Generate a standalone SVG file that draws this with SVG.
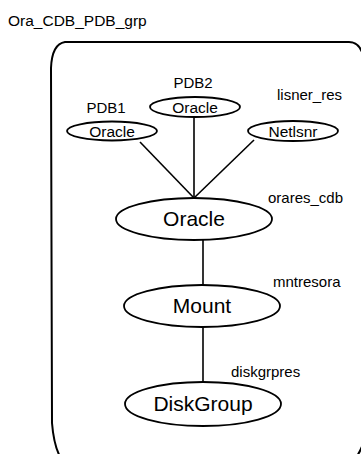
<svg xmlns="http://www.w3.org/2000/svg" width="361" height="454" viewBox="0 0 361 454">
<style>
text{font-family:"Liberation Sans",Arial,sans-serif;fill:#000}
.lbl{font-size:15px}
.ttl{font-size:15.5px}
.sm{font-size:15.5px;text-anchor:middle}
.big{font-size:21px;text-anchor:middle}
.node ellipse{fill:#fff;stroke:#000;stroke-width:1.8}
.edge{stroke:#000;stroke-width:1.6;fill:none}
</style>
<rect width="361" height="454" fill="#fff"/>
<g id="group">
<path d="M65 42 L349 42 Q358 42 362 52 L366 430 Q364 448 354 460 L62 460 Q54 448 52 423 L51 68 Q52 44 65 42 Z" fill="none" stroke="#000" stroke-width="2"/>
<text class="ttl" x="8" y="26">Ora_CDB_PDB_grp</text>
</g>
<g id="connectors">
<line class="edge" x1="140" y1="142" x2="194" y2="198"/>
<line class="edge" x1="194" y1="117" x2="194" y2="198"/>
<line class="edge" x1="254" y1="140" x2="194" y2="198"/>
<line class="edge" x1="203" y1="240" x2="203" y2="285"/>
<line class="edge" x1="203" y1="327" x2="203" y2="382"/>
</g>
<g id="pdb1" class="node">
<text class="lbl" x="106" y="113" text-anchor="middle">PDB1</text>
<ellipse cx="112" cy="131" rx="45" ry="9.5"/>
<text class="sm" x="112" y="137">Oracle</text>
</g>
<g id="pdb2" class="node">
<text class="lbl" x="193" y="88" text-anchor="middle">PDB2</text>
<ellipse cx="195" cy="107" rx="45" ry="10"/>
<text class="sm" x="195" y="113">Oracle</text>
</g>
<g id="lisner_res" class="node">
<text class="lbl" x="277" y="100">lisner_res</text>
<ellipse cx="293" cy="131" rx="45" ry="10"/>
<text class="sm" x="293" y="137">Netlsnr</text>
</g>
<g id="orares_cdb" class="node">
<text class="lbl" x="268" y="203">orares_cdb</text>
<ellipse cx="194" cy="219" rx="78" ry="21"/>
<text class="big" x="194" y="226">Oracle</text>
</g>
<g id="mntresora" class="node">
<text class="lbl" x="273" y="287">mntresora</text>
<ellipse cx="202" cy="306" rx="78" ry="21"/>
<text class="big" x="202" y="313">Mount</text>
</g>
<g id="diskgrpres" class="node">
<text class="lbl" x="231" y="377">diskgrpres</text>
<ellipse cx="203" cy="404" rx="78" ry="22"/>
<text class="big" x="203" y="411">DiskGroup</text>
</g>
</svg>
